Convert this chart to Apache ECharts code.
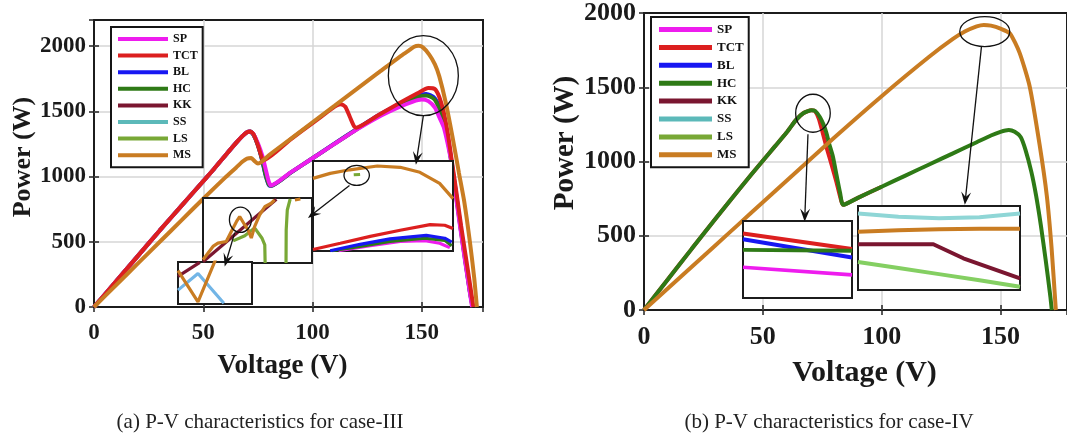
<!DOCTYPE html>
<html>
<head>
<meta charset="utf-8">
<script src="https://cdn.jsdelivr.net/npm/echarts@6/dist/echarts.min.js"></script>
<style>
  html, body { margin: 0; background: #fff; }
  #main { width: 1067px; height: 439px; }
</style>
</head>
<body>
<div id="main"></div>
<script>
// series names and colours
const names = ['SP', 'TCT', 'BL', 'HC', 'KK', 'SS', 'LS', 'MS']
const colors = { SP: '#ee1cee', TCT: '#dc1f1f', BL: '#1717f2', HC: '#2e7a16', KK: '#7a1630', SS: '#5cb9b9', LS: '#78a836', MS: '#c97c22' }

// ---- case-III (left) main curves, [V, P]
const leftRise = [[0, 0], [10, 195], [20, 390], [30, 585], [40, 775], [50, 965], [55, 1060], [60, 1160], [65, 1258], [68, 1312], [70, 1340], [71.5, 1345]]
const leftSP = [[73, 1324], [75, 1255], [77, 1160], [78.5, 1060], [80, 960], [81, 932], [90, 1032], [100, 1140], [110, 1250], [120, 1358], [130, 1455], [140, 1535], [146, 1575], [150, 1590], [153, 1578], [156, 1528], [158, 1455], [160, 1380], [162, 1240], [163.5, 1110], [165.5, 860], [168, 560], [170, 330], [172, 110], [173, 0]]
const leftTCT = [[73, 1325], [75, 1240], [76.5, 1160], [77.5, 1125], [90, 1285], [100, 1410], [108, 1510], [111, 1545], [113, 1555], [115, 1535], [117, 1460], [119, 1385], [120, 1375], [130, 1470], [140, 1565], [148, 1638], [153, 1678], [156, 1670], [158, 1610], [160, 1495], [162, 1320], [164, 1090], [166, 860], [168, 620], [170, 400], [172, 180], [173.6, 0]]
const leftBL = [[73, 1320], [75, 1240], [77, 1120], [78.5, 1010], [80, 935], [81, 928], [90, 1030], [100, 1140], [110, 1252], [120, 1362], [130, 1468], [140, 1558], [146, 1605], [150, 1628], [152, 1632], [154, 1622], [156, 1598], [158, 1535], [160, 1430], [162, 1280], [164, 1070], [166, 830], [168, 585], [170, 350], [172, 120], [173.3, 0]]
const leftHC = [[73, 1320], [75, 1242], [77, 1125], [78.5, 1015], [80, 938], [81, 930], [90, 1030], [100, 1140], [110, 1250], [120, 1360], [130, 1465], [140, 1550], [146, 1597], [150, 1618], [152, 1622], [154, 1612], [156, 1588], [158, 1520], [160, 1415], [162, 1265], [164, 1055], [166, 815], [168, 572], [170, 340], [172, 115], [173.2, 0]]
const leftMS = [[0, 0], [10, 166], [20, 332], [30, 498], [40, 664], [50, 830], [60, 992], [65, 1068], [68, 1115], [70, 1138], [72, 1142], [73.5, 1118], [75, 1100], [76.5, 1110], [80, 1163], [90, 1289], [100, 1416], [110, 1542], [120, 1668], [130, 1794], [140, 1920], [144, 1965], [146.5, 1995], [148.5, 2002], [150.5, 1990], [153.4, 1935], [156, 1860], [158, 1768], [161, 1564], [164, 1308], [167, 1027], [169.4, 810], [172, 500], [174, 220], [175.2, 0]]

// inset L1 (zoom of the right-hand peaks)
const l1MS = [[140, 1927], [142.7, 1951], [145.8, 1968], [150.1, 1986], [153.7, 1980], [156.8, 1956], [159.9, 1903], [162, 1830]]
const l1TCT = [[140, 1587], [144.3, 1617], [149, 1650], [153.7, 1679], [158.4, 1706], [160.7, 1703], [162, 1687]]
const l1BL = [[142.7, 1581], [147.4, 1612], [152.1, 1638], [157.8, 1655], [160.7, 1641], [161.8, 1622]]
const l1HC = [[143, 1581], [147.4, 1602], [152.1, 1626], [157.6, 1641], [160.7, 1631], [161.8, 1605]]
const l1SP = [[144, 1581], [149, 1605], [153.7, 1626], [157.6, 1629], [159.9, 1617], [161.5, 1596]]
const l1LS = [[146.4, 1944], [147.4, 1946]]
// inset L2
const l2KK = [[60, 1004], [80.2, 1196]]
const l2LS = [[68.3, 1068], [71.5, 1084], [74.2, 1108], [76.2, 1077], [77, 1056], [77.1, 1000]]
const l2LSb = [[82.85, 1000], [82.9, 1102], [83.2, 1163], [84, 1197]]
const l2MS = [[60, 1010], [62.75, 1051], [64.1, 1061], [66.4, 1066], [67.8, 1097], [69.2, 1127], [70.1, 1143], [71.5, 1117], [72.4, 1102], [73.3, 1077], [74.2, 1112], [75.6, 1148], [77, 1173], [78.8, 1184], [79.7, 1194]]
const l2MSb = [[85.3, 1194], [86.8, 1197]]
// inset L3
const l3KK = [[40, 198], [45.9, 298]]
const l3SS = [[40, 99], [45.4, 218], [52.4, 5]]
const l3MS = [[40, 238], [45.4, 16], [50.2, 320]]

// ---- case-IV (right) main curves
const rightRise = [[0, 0], [10, 205], [20, 410], [30, 612], [40, 812], [50, 1005], [55, 1100], [60, 1195], [64, 1280], [67, 1325], [70.5, 1345]]
const rightHC = [[72, 1340], [74, 1300], [75.5, 1250], [76.8, 1190], [78, 1115], [79.5, 1033], [81, 910], [82.5, 790], [83.8, 708], [90, 755], [100, 830], [110, 905], [120, 980], [130, 1055], [140, 1130], [146, 1175], [150, 1200], [153.5, 1212], [156, 1200], [158.5, 1165], [160.5, 1080], [163, 930], [165, 770], [167, 570], [169, 340], [171, 90], [171.6, 0]]
const rightTCT = [[72, 1338], [73.5, 1290], [75, 1205], [77, 1085], [79, 975], [81, 860], [83, 735], [83.8, 708], [90, 755], [100, 830]]
const rightMS = [[0, 0], [10, 145], [20, 290], [30, 435], [40, 580], [50, 725], [60, 870], [80, 1160], [100, 1440], [120, 1705], [130, 1825], [135, 1875], [140, 1910], [143, 1920], [146, 1915], [150, 1895], [154, 1862], [158.1, 1730], [162.3, 1505], [166.5, 1110], [169.5, 770], [171.5, 420], [173.3, 0]]

// inset R1 (first peak)
const r1SP = [[68, 1312], [74, 1304]]
const r1TCT = [[68, 1347], [74, 1331]]
const r1BL = [[68, 1341], [74, 1322]]
const r1HC = [[68, 1330], [74, 1329]]
// inset R2 (MS peak)
const r2SS = [[135, 1944], [140, 1937], [145, 1934], [150, 1936], [155, 1944]]
const r2MS = [[135, 1905], [140, 1908], [145, 1910], [150, 1911], [155, 1911]]
const r2KK = [[135, 1878], [144.3, 1878], [148, 1848], [155, 1805]]
const r2LS = [[135, 1840], [140, 1827], [145, 1814], [150, 1801], [155, 1787]]

// annotations, in main-plot data units: [V, P, rx px, ry px] and arrows [from, to]
const leftCircles = [[150.7, 1773, 35, 40], [120.2, 1009, 12.7, 10], [67, 669, 11, 12.7]]
const leftArrows = [[[150.7, 1466], [147.3, 1091]], [[116.9, 932], [97.9, 683]], [[64.4, 570], [59.8, 311]]]
const rightCircles = [[71.1, 1325, 17.3, 19], [143.4, 1875, 25, 15]]
const rightArrows = [[[69, 1184], [67.6, 595]], [[142, 1774], [135, 708]]]

const xMax = 178
const serif = 'Liberation Serif'
const ink = '#1a1a1a'

function mainX(grid, pos, on, fs, margin, nameGap, namePad) {
  return {
    type: 'value', gridIndex: grid, position: pos, min: 0, max: xMax, interval: 50,
    axisLine: { show: false },
    axisTick: { show: true, inside: true, length: 5, lineStyle: { color: '#222', width: 1.5 } },
    axisLabel: { show: on, showMaxLabel: false, margin, formatter: v => String(v), fontFamily: serif, fontWeight: 'bold', fontSize: fs, color: ink },
    splitLine: { show: on, showMinLine: false, showMaxLine: false, lineStyle: { color: '#d6d6d6', width: 1.5 } },
    name: on ? 'Voltage (V)' : '', nameLocation: 'middle', nameGap,
    nameTextStyle: { fontFamily: serif, fontWeight: 'bold', fontSize: fs + 4, color: ink, padding: namePad }
  }
}
function mainY(grid, pos, on, max, fs, margin, nameGap, namePad) {
  return {
    type: 'value', gridIndex: grid, position: pos, min: 0, max, interval: 500,
    axisLine: { show: false },
    axisTick: { show: true, inside: true, length: 5, lineStyle: { color: '#222', width: 1.5 } },
    axisLabel: { show: on, showMaxLabel: max === 2000, margin, formatter: v => String(v), fontFamily: serif, fontWeight: 'bold', fontSize: fs, color: ink },
    splitLine: { show: on, showMinLine: false, showMaxLine: false, lineStyle: { color: '#d6d6d6', width: 1.5 } },
    name: on ? 'Power (W)' : '', nameLocation: 'middle', nameGap,
    nameTextStyle: { fontFamily: serif, fontWeight: 'bold', fontSize: fs + 3, color: ink, padding: namePad }
  }
}
function insetAxis(grid, min, max) {
  return { type: 'value', gridIndex: grid, min, max, show: false }
}

function line(name, data, axis, z, width, color) {
  const c = color || colors[name]
  return {
    type: 'line', name, data, xAxisIndex: axis, yAxisIndex: axis,
    showSymbol: false, symbol: 'none', silent: true,
    smooth: axis < 4 ? 0.2 : false,
    lineStyle: { color: c, width: width || 4 },
    itemStyle: { color: c },
    z: z
  }
}

function legend(left, top, fs, iw, ih, gap, pad) {
  return {
    orient: 'vertical', left, top, itemWidth: iw, itemHeight: ih, itemGap: gap,
    icon: 'rect', padding: pad, borderColor: '#151515', borderWidth: 2, backgroundColor: '#fff',
    selectedMode: false, z: 8,
    textStyle: { fontFamily: serif, fontWeight: 'bold', fontSize: fs, color: '#111' },
    data: names.map(n => ({ name: n, itemStyle: { color: colors[n] } }))
  }
}

const insetGrid = (left, top, width, height) => ({ left, top, width, height, show: true, backgroundColor: '#fff', borderColor: '#1c1c1c', borderWidth: 2, z: 5 })

const option = {
  animation: false,
  backgroundColor: '#fff',
  grid: [
    { left: 94, top: 20, width: 389, height: 287, show: true, borderColor: '#1c1c1c', borderWidth: 2 },
    { left: 644, top: 13, width: 423, height: 297, show: true, borderColor: '#1c1c1c', borderWidth: 2 },
    insetGrid(313, 161, 140, 90),
    insetGrid(203, 198, 109, 65),
    insetGrid(178, 262, 74, 42),
    insetGrid(743, 221, 109, 77),
    insetGrid(858, 206, 162, 84)
  ],
  xAxis: [
    mainX(0, 'bottom', true, 23, 15, 46, [0, 12, 0, 0]),
    mainX(0, 'top', false, 23, 8, 0, 0),
    mainX(1, 'bottom', true, 26, 14.5, 48, [0, 0, 0, 18]),
    mainX(1, 'top', false, 26, 8, 0, 0),
    insetAxis(2, 140, 162),
    insetAxis(3, 60, 90),
    insetAxis(4, 40, 60),
    insetAxis(5, 68, 74),
    insetAxis(6, 135, 155)
  ],
  yAxis: [
    mainY(0, 'left', true, 2200, 23, 8, 52, [0, 0, 0, 13]),
    mainY(0, 'right', false, 2200, 23, 8, 0, 0),
    mainY(1, 'left', true, 2000, 26, 8, 45, [0, 0, 0, 37]),
    mainY(1, 'right', false, 2000, 26, 8, 0, 0),
    insetAxis(2, 1580, 2010),
    insetAxis(3, 1000, 1200),
    insetAxis(4, 0, 300),
    insetAxis(5, 1280, 1360),
    insetAxis(6, 1780, 1960)
  ],
  legend: [
    legend(111, 27, 12, 50, 4, 4.6, [6, 5, 6, 7]),
    legend(651, 17, 13, 53, 5, 4.9, [6, 5, 6, 8])
  ],
  series: [
    // case-III main plot
    line('BL', leftRise.concat(leftBL), 0, 2),
    line('HC', leftRise.concat(leftHC), 0, 2),
    line('SP', leftRise.concat(leftSP), 0, 2),
    line('TCT', leftRise.concat(leftTCT), 0, 3),
    line('MS', leftMS, 0, 4),
    // case-IV main plot
    line('TCT', rightRise.concat(rightTCT), 2, 2),
    line('HC', rightRise.concat(rightHC), 2, 3),
    line('MS', rightMS, 2, 4),
    // case-III insets
    line('SP', l1SP, 4, 6, 3.2), line('HC', l1HC, 4, 6, 3.2), line('BL', l1BL, 4, 6, 3.2), line('TCT', l1TCT, 4, 6, 3.2),
    line('LS', l1LS, 4, 6, 3), line('MS', l1MS, 4, 6, 3.2),
    line('KK', l2KK, 5, 6, 3.2), line('LS', l2LS, 5, 6, 3.2), line('LS', l2LSb, 5, 6, 3.2), line('MS', l2MS, 5, 6, 3.2), line('MS', l2MSb, 5, 6, 3.2),
    line('KK', l3KK, 6, 6, 3.2), line('SS', l3SS, 6, 6, 3.2, '#72b5e6'), line('MS', l3MS, 6, 6, 3.2),
    // case-IV insets
    line('SP', r1SP, 7, 6, 3.6), line('TCT', r1TCT, 7, 6, 4), line('BL', r1BL, 7, 6, 4), line('HC', r1HC, 7, 6, 4),
    line('SS', r2SS, 8, 6, 4, '#8fd6d6'), line('MS', r2MS, 8, 6, 4), line('KK', r2KK, 8, 6, 4), line('LS', r2LS, 8, 6, 4, '#84cf62')
  ]
}

const chart = echarts.init(document.getElementById('main'), null, { renderer: 'canvas' })
chart.setOption(option)

function arrow(p0, p1) {
  const dx = p1[0] - p0[0], dy = p1[1] - p0[1], len = Math.hypot(dx, dy)
  const ux = dx / len, uy = dy / len, L = 13, W = 5
  const bx = p1[0] - ux * L, by = p1[1] - uy * L
  const nx = p1[0] - ux * L * 0.6, ny = p1[1] - uy * L * 0.6
  return [
    { type: 'line', z: 20, silent: true, shape: { x1: p0[0], y1: p0[1], x2: nx, y2: ny }, style: { stroke: '#111', lineWidth: 1.3 } },
    { type: 'polygon', z: 20, silent: true, shape: { points: [p1, [bx - uy * W, by + ux * W], [nx, ny], [bx + uy * W, by - ux * W]] }, style: { fill: '#111' } }
  ]
}
function annotate(gridIndex, circles, arrows) {
  const out = []
  circles.forEach(c => {
    const p = chart.convertToPixel({ gridIndex }, [c[0], c[1]])
    out.push({ type: 'ellipse', z: 20, silent: true, shape: { cx: p[0], cy: p[1], rx: c[2], ry: c[3] }, style: { fill: 'none', stroke: '#111', lineWidth: 1.3 } })
  })
  arrows.forEach(a => {
    const p0 = chart.convertToPixel({ gridIndex }, a[0])
    const p1 = chart.convertToPixel({ gridIndex }, a[1])
    out.push(...arrow(p0, p1))
  })
  return out
}
const caption = (x, text) => ({ type: 'text', x, y: 422, z: 20, silent: true, style: { text, font: '21px "Liberation Serif"', fill: '#222', align: 'center', verticalAlign: 'middle' } })

chart.setOption({
  graphic: annotate(0, leftCircles, leftArrows)
    .concat(annotate(1, rightCircles, rightArrows))
    .concat([caption(260, '(a) P-V characteristics for case-III'), caption(829, '(b) P-V characteristics for case-IV')])
})
</script>
</body>
</html>
